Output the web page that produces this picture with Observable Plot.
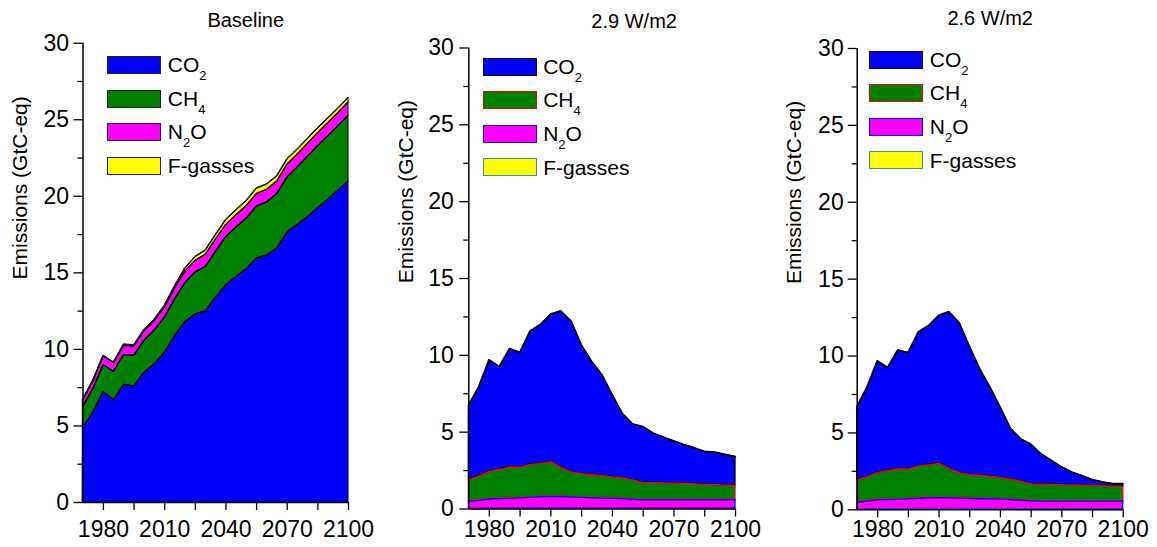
<!DOCTYPE html>
<html><head><meta charset="utf-8">
<script src="https://cdn.jsdelivr.net/npm/d3@7"></script>
<script src="https://cdn.jsdelivr.net/npm/@observablehq/plot@0.6"></script>
<style>
body{margin:0;background:#fff;}
#root{position:relative;width:1157px;height:547px;overflow:hidden;font-family:"Liberation Sans",Arial,sans-serif;background:#fff;}
.panel{position:absolute;top:0;}
.panel svg{overflow:visible;}
.legend{position:absolute;font-size:21px;color:#000;}
.row{position:absolute;left:0;height:18px;display:flex;align-items:center;white-space:nowrap;line-height:1;}
.sw{display:inline-block;box-sizing:border-box;width:54px;height:18px;border:1.5px solid #000;}
.lab{margin-left:6.5px;}
.lab sub{font-size:13px;vertical-align:-8px;line-height:0;}
</style></head><body><div id="root"></div><script>
// ---- data ----
const years = [1970,1975,1980,1985,1990,1995,2000,2005,2010,2015,2020,2025,2030,2035,2040,2045,2050,2055,2060,2065,2070,2075,2080,2085,2090,2095,2100];
const gases = ["CO2","CH4","N2O","F-gasses"];
const legendLabels = ["CO<sub>2</sub>","CH<sub>4</sub>","N<sub>2</sub>O","F-gasses"];
const titles = ["Baseline","2.9 W/m2","2.6 W/m2"];
const yTicks = [0,5,10,15,20,25,30];
const yMinorTicks = [2.5,7.5,12.5,17.5,22.5,27.5];
const xTicks = [1980,2010,2040,2070,2100];
const xMinorTicks = [1995,2025,2055,2085];
const yLabel = "Emissions (GtC-eq)";

// Baseline (GtC-eq)
const co2Base = [4.9,5.9,7.25,6.7,7.7,7.6,8.5,9.05,9.8,10.9,11.8,12.3,12.5,13.4,14.2,14.75,15.25,15.95,16.15,16.6,17.65,18.15,18.65,19.25,19.8,20.4,21.0];
const ch4Base = [1.35,1.55,1.75,1.85,1.95,2.0,2.1,2.2,2.3,2.4,2.55,2.75,2.9,3.0,3.15,3.23,3.3,3.4,3.47,3.56,3.6,3.75,3.95,4.05,4.15,4.2,4.3];
const n2oBase = [0.45,0.5,0.55,0.55,0.6,0.6,0.6,0.6,0.65,0.7,0.75,0.75,0.8,0.8,0.8,0.8,0.82,0.82,0.82,0.82,0.84,0.84,0.85,0.85,0.86,0.86,0.87];
const fgBase  = [0.03,0.04,0.05,0.06,0.08,0.08,0.1,0.1,0.12,0.15,0.2,0.25,0.28,0.3,0.32,0.33,0.34,0.35,0.35,0.35,0.35,0.33,0.32,0.31,0.3,0.3,0.28];

// 2.9 W/m2
const co2_29 = [4.82,5.79,7.23,6.68,7.68,7.47,8.66,9.01,9.58,10.18,9.8,8.36,7.36,6.56,5.34,4.17,3.62,3.63,3.22,2.96,2.74,2.51,2.34,2.14,2.11,1.97,1.87];
const ch4_29 = [1.42,1.59,1.81,1.9,2.05,1.98,2.15,2.18,2.27,1.89,1.64,1.55,1.5,1.46,1.39,1.36,1.27,1.12,1.12,1.11,1.09,1.07,1.04,1.01,0.99,0.97,0.94];
const n2o_29 = [0.48,0.55,0.63,0.65,0.67,0.7,0.73,0.76,0.78,0.77,0.74,0.72,0.7,0.68,0.67,0.64,0.61,0.58,0.57,0.57,0.57,0.57,0.57,0.57,0.57,0.57,0.57];
const fg_29  = [0.01,0.01,0.02,0.02,0.02,0.02,0.03,0.03,0.03,0.03,0.03,0.03,0.03,0.03,0.03,0.03,0.02,0.02,0.02,0.02,0.02,0.02,0.02,0.02,0.02,0.02,0.02];

// 2.6 W/m2
const co2_26 = [4.75,5.82,7.24,6.69,7.71,7.56,8.7,9.04,9.6,10.19,9.74,8.32,6.93,5.78,4.55,3.3,2.74,2.57,1.95,1.55,1.13,0.82,0.6,0.37,0.24,0.14,0.16];
const ch4_26 = [1.45,1.6,1.79,1.88,1.99,1.94,2.1,2.15,2.24,1.9,1.64,1.55,1.51,1.47,1.42,1.33,1.24,1.1,1.1,1.09,1.07,1.05,1.03,1.01,0.99,0.97,0.95];
const n2o_26 = [0.48,0.55,0.62,0.64,0.66,0.69,0.72,0.74,0.76,0.75,0.73,0.71,0.69,0.68,0.66,0.63,0.6,0.56,0.55,0.55,0.55,0.55,0.55,0.55,0.55,0.55,0.55];
const fg_26  = [0.01,0.01,0.02,0.02,0.02,0.02,0.03,0.03,0.03,0.03,0.03,0.03,0.03,0.03,0.03,0.03,0.02,0.02,0.02,0.02,0.02,0.02,0.02,0.02,0.02,0.02,0.02];

// ---- styles ----
const fillColors = ["#0000ff","#008000","#ff00ff","#ffff00"];
const strokeBase = ["#000000","#000000","#000000","#000000"];
const strokeMitig = ["#000000","#ff0000","#0000ff","#2a9d9d"];
const font = "'Liberation Sans', Arial, sans-serif";

function tidy(arrs, order) {
  const rows = [];
  order.forEach(g => {
    const i = gases.indexOf(g);
    years.forEach((y, j) => rows.push({year: y, gas: g, value: arrs[i][j]}));
  });
  return rows;
}

const root = document.getElementById("root");

function panel(cfg) {
  const fillMap = Object.fromEntries(gases.map((g, i) => [g, fillColors[i]]));
  const strokeMap = Object.fromEntries(gases.map((g, i) => [g, cfg.strokes[i]]));
  const rows = tidy(cfg.series, cfg.order);
  const chart = Plot.plot({
    width: cfg.width,
    height: 547,
    marginLeft: cfg.mLeft,
    marginRight: cfg.mRight,
    marginTop: cfg.mTop,
    marginBottom: cfg.mBottom,
    style: {fontFamily: font, color: "#000", background: "transparent", overflow: "visible"},
    x: {domain: [years[0], years[years.length - 1]]},
    y: {domain: [yTicks[0], yTicks[yTicks.length - 1]]},
    marks: [
      Plot.areaY(rows, {x: "year", y: "value", z: "gas", order: cfg.order,
        fill: d => fillMap[d.gas], stroke: d => strokeMap[d.gas], strokeWidth: cfg.sw}),
      Plot.lineY(rows, Plot.stackY2({x: "year", y: "value", z: "gas", order: cfg.order,
        stroke: d => strokeMap[d.gas], strokeWidth: cfg.sw})),
      Plot.ruleX([years[0]], {stroke: "#000", strokeWidth: 1.5}),
      Plot.ruleY([yTicks[0]], {stroke: "#000", strokeWidth: 1.5}),
      Plot.axisY({ticks: yTicks, tickSize: 9, tickPadding: cfg.yPad, fontSize: 23, label: null, strokeWidth: 1.3}),
      Plot.axisY({ticks: yMinorTicks, tickSize: 5, text: null, label: null, strokeWidth: 1.3}),
      Plot.axisX({ticks: xTicks, tickSize: 8, tickPadding: cfg.xPad, fontSize: 23, label: null, tickFormat: d => String(d), strokeWidth: 1.3}),
      Plot.axisX({ticks: xMinorTicks, tickSize: 8, text: null, label: null, strokeWidth: 1.3}),
      Plot.text([cfg.title], {text: d => d, frameAnchor: "top", lineAnchor: "middle", dx: cfg.titleDx, dy: cfg.titleDy, fontSize: 20, fontWeight: "normal"}),
      Plot.text([yLabel], {text: d => d, frameAnchor: "left", lineAnchor: "middle", rotate: -90, dx: cfg.labDx, dy: cfg.labDy, fontSize: 21, fontWeight: "normal"})
    ]
  });
  const div = document.createElement("div");
  div.className = "panel";
  div.style.left = cfg.left + "px";
  div.appendChild(chart);
  root.appendChild(div);

  const lg = document.createElement("div");
  lg.className = "legend";
  lg.style.left = cfg.legLeft + "px";
  lg.style.top = cfg.legTop + "px";
  gases.forEach((g, i) => {
    const row = document.createElement("div");
    row.className = "row";
    row.style.top = (i * cfg.legStep) + "px";
    const sw = document.createElement("span");
    sw.className = "sw";
    sw.style.background = fillColors[i];
    sw.style.borderColor = cfg.legBorders[i];
    const lab = document.createElement("span");
    lab.className = "lab";
    lab.innerHTML = legendLabels[i];
    row.appendChild(sw); row.appendChild(lab);
    lg.appendChild(row);
  });
  root.appendChild(lg);
}

panel({left: 0, width: 380, mLeft: 82.5, mRight: 32, mTop: 42.7, mBottom: 45,
  series: [co2Base, ch4Base, n2oBase, fgBase], order: ["CO2","CH4","N2O","F-gasses"],
  strokes: strokeBase, sw: 1.0, title: titles[0], titleDx: 30, titleDy: -23,
  labDx: -63, labDy: 6.6, xPad: 10, yPad: 5,
  legLeft: 107.3, legTop: 56, legStep: 33.5, legBorders: ["#222","#222","#222","#222"]});

panel({left: 385, width: 385, mLeft: 83.3, mRight: 35, mTop: 47.5, mBottom: 38.5,
  series: [co2_29, ch4_29, n2o_29, fg_29], order: ["F-gasses","N2O","CH4","CO2"],
  strokes: strokeMitig, sw: 1.3, title: titles[1], titleDx: 32, titleDy: -26.5,
  labDx: -63, labDy: 4.7, xPad: 3.5, yPad: 6,
  legLeft: 482.7, legTop: 57.6, legStep: 33.5, legBorders: strokeMitig});

panel({left: 772, width: 385, mLeft: 84.7, mRight: 34.3, mTop: 48, mBottom: 37.7,
  series: [co2_26, ch4_26, n2o_26, fg_26], order: ["F-gasses","N2O","CH4","CO2"],
  strokes: strokeMitig, sw: 1.3, title: titles[2], titleDx: 0, titleDy: -29.5,
  labDx: -63, labDy: 4.9, xPad: 3, yPad: 4.5,
  legLeft: 869.3, legTop: 50.6, legStep: 33.5, legBorders: strokeMitig});
</script></body></html>
